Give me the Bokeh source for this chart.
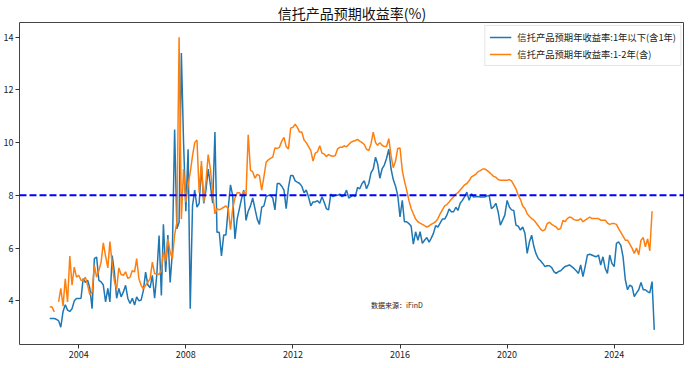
import numpy as np
import pandas as pd
from bokeh.plotting import figure
from bokeh.models import Span, Label, FixedTicker, DatetimeTickFormatter, Range1d, Legend, LegendItem
from bokeh.embed import file_html
from bokeh.resources import INLINE

FONT = "Noto Sans CJK SC"

title_text = "信托产品预期收益率(%)"
label_short = "信托产品预期年收益率:1年以下(含1年)"
label_mid = "信托产品预期年收益率:1-2年(含)"
source_note = "数据来源：iFinD"

start_month = "2002-12-01"
tick_years = [2004, 2008, 2012, 2016, 2020, 2024]
y_ticks = [4, 6, 8, 10, 12, 14]
ref_level = 8

nan = float("nan")

blue_1y = [
    3.33,
    3.33, 3.33, 3.3, 3.25, 3.0, 3.6, 3.85, 3.65, 3.6, 3.7, 4.0, 4.09,
    4.09, 4.1, 4.84, 4.7, 4.78, 4.47, 3.7, 5.6, 5.66, 4.78, 4.72, 4.6,
    3.96, 4.47, 3.96, 5.72, 5.09, 4.1, 4.47, 4.15, 4.34, 4.59, 4.09, 3.9,
    4.1, 3.84, 4.15, 4.0, 4.03, 4.4, 5.09, 4.6, 4.5, 4.97, 4.1, 5.0,
    6.48, 4.2, 6.9, 5.1, 6.5, 4.7, 5.85, 10.5, 6.73, 6.98, 13.4, 10.0,
    7.4, 9.75, 3.7, 7.6, 8.2, 7.55, 7.7, 9.1, 7.7, 8.2, 9.0, 8.4,
    7.7, 10.4, 6.6, 6.6, 5.7, 6.5, 6.5, 7.5, 8.4, 8.0, 6.35, 7.1,
    7.5, 7.9, 8.2, 7.05, 7.4, 7.6, 7.9, 7.5, 7.1, 6.9, 7.55, 7.6,
    7.95, 8.0, 8.0, 7.9, 7.45, 8.45, 8.45, 8.35, 8.2, 7.5, 8.3, 8.75,
    8.75, 8.55, 8.5, 8.45, 8.35, 8.1, 8.2, 7.94, 7.6, 7.75, 7.75, 7.8,
    7.7, 7.95, 7.75, 7.5, 7.45, 8.05, 7.95, 8.0, 8.0, 8.05, 7.95, 8.0,
    8.2, 7.9, 7.95, 8.0, 7.95, 8.3, 8.25, 8.45, 8.55, 8.25, 8.45, 8.85,
    9.0, 9.45, 9.2, 8.65, 9.0, 9.15, 9.4, 9.75, 9.0, 8.6, 8.35, 8.0,
    7.18, 7.81, 7.0, 7.0, 6.93, 6.83, 6.15, 6.62, 6.3, 6.62, 6.18, 6.3,
    6.4, 6.23, 6.37, 6.56, 6.85, 6.8, 6.95, 7.1, 7.1, 7.25, 7.48, 7.38,
    7.38, 7.55, 7.43, 7.7, 7.81, 7.95, 8.12, 7.81, 8.06, 7.94, 7.95, 7.96,
    7.94, 7.94, 7.94, 7.97, 8.0, 7.5, 7.56, 7.7, 7.37, 6.87, 7.06, 7.25,
    7.81, 7.56, 7.45, 7.43, 6.87, 6.83, 6.68, 6.8, 6.55, 5.8, 6.24, 6.49,
    6.05, 5.77, 5.61, 5.52, 5.42, 5.3, 5.33, 5.33, 5.26, 5.11, 5.04, 5.11,
    5.14, 5.23, 5.3, 5.33, 5.36, 5.3, 5.23, 5.14, 5.04, 5.36, 4.92, 5.3,
    5.74, 5.77, 5.74, 5.7, 5.67, 5.74, 5.36, 5.67, 5.23, 5.04, 5.74, 5.42,
    5.3, 6.18, 6.24, 6.1, 5.67, 4.8, 4.42, 4.6, 4.54, 4.16, 4.3, 4.42,
    4.7, 4.42, 4.42, 4.35, 4.3, 4.73, 2.9,
]

orange_1_2y = [
    3.77,
    3.77, 3.58, nan, 3.96, 4.47, 3.8, 4.84, 3.96, 5.7, 4.6, 5.28, 4.9,
    4.97, 4.78, 4.76, 4.9, 4.59, 4.23, 4.34, 5.34, 4.9, 5.15, 5.47, 6.2,
    5.7, 5.25, 6.25, 5.4, 4.75, 4.45, 5.25, 5.0, 4.97, 5.1, 4.85, 4.9,
    5.15, 5.1, 5.6, 4.84, 4.59, 4.45, 4.59, 4.72, 4.84, 5.47, 5.03, 5.03,
    5.0, 5.15, 5.85, 5.5, 6.35, 5.85, 5.6, 6.5, 6.98, 14.0, 7.1, 9.0,
    7.74, 8.4, 8.87, 9.5, 10.0, 10.1, 8.1, 9.3, 7.74, 8.5, 9.55, 9.0,
    8.1, 7.3, 7.5, 7.45, 7.5, 7.55, 7.6, 7.5, 6.7, 7.5, 7.9, 8.1,
    8.1, 8.0, 8.15, 8.0, 10.3, 8.95, 8.9, 8.65, 8.8, 8.75, 8.2, 8.7,
    9.26, 9.35, 9.4, 9.45, 9.8, 9.78, 9.82, 10.05, 10.2, 9.85, 9.76, 10.55,
    10.58, 10.7, 10.58, 10.4, 10.4, 10.1, 10.0, 9.85, 9.7, 9.3, 9.6, 9.65,
    9.88, 9.6, 9.57, 9.47, 9.55, 9.5, 9.48, 9.51, 9.76, 9.82, 9.82, 9.88,
    9.84, 9.93, 10.01, 10.05, 10.08, 10.12, 10.06, 10.0, 9.93, 9.75, 9.7, 9.95,
    10.4, 10.0, 9.9, 10.0, 9.9, 9.85, 9.85, 10.15, 9.5, 9.05, 9.3, 9.78,
    9.8, 8.95, 8.55, 8.2, 7.81, 7.5, 7.3, 7.1, 7.0, 6.95, 6.9, 6.85,
    6.8, 6.84, 6.9, 6.95, 7.0, 7.12, 7.3, 7.45, 7.6, 7.65, 7.75, 7.85,
    7.95, 8.05, 8.1, 8.2, 8.3, 8.4, 8.45, 8.55, 8.7, 8.75, 8.8, 8.9,
    8.94, 9.0, 9.0, 8.95, 8.88, 8.8, 8.72, 8.69, 8.6, 8.57, 8.57, 8.57,
    8.57, 8.6, 8.55, 8.4, 8.25, 8.0, 7.85, 7.6, 7.5, 7.3, 7.2, 7.12,
    7.06, 6.95, 6.85, 6.72, 6.65, 6.7, 6.93, 6.98, 6.9, 6.85, 6.8, 6.7,
    6.75, 7.05, 7.0, 7.12, 7.18, 7.15, 7.08, 7.06, 7.06, 7.12, 7.0, 7.06,
    7.12, 7.18, 7.12, 7.12, 7.12, 7.12, 7.06, 7.06, 7.06, 6.95, 6.9, 6.93,
    6.93, 6.9, 6.74, 6.6, 6.45, 6.3, 6.3, 6.15, 6.0, 5.8, 6.0, 5.75,
    6.3, 6.4, 6.05, 6.35, 5.9, 7.4, nan,
]

dates = pd.date_range(start_month, periods=len(blue_1y), freq="MS")
assert len(orange_1_2y) == len(blue_1y)

t0, t1 = dates[0], dates[-1]
pad_t = (t1 - t0) * 0.05
allv = np.array(blue_1y + orange_1_2y, dtype=float)
lo, hi = np.nanmin(allv), np.nanmax(allv)
pad_v = (hi - lo) * 0.05

p = figure(width=684, height=360, x_axis_type="datetime",
           output_backend="svg", toolbar_location=None,
           x_range=Range1d(t0 - pad_t, t1 + pad_t),
           y_range=Range1d(lo - pad_v, hi + pad_v),
           min_border_left=4, min_border_right=0, min_border_top=0, min_border_bottom=4)

p.title.text = title_text
p.title.align = "center"
p.title.text_font = FONT
p.title.text_font_size = "14px"
p.title.text_font_style = "normal"
p.title.text_color = "#111111"
p.title.text_line_height = 0.9
p.title.standoff = 0
p.title.offset = 0

p.grid.visible = False
p.outline_line_color = "#444444"
p.outline_line_width = 1
p.background_fill_color = "white"
p.border_fill_color = "white"

for ax in (p.xaxis[0], p.yaxis[0]):
    ax.axis_line_color = None
    ax.major_tick_in = 0
    ax.major_tick_out = 4
    ax.minor_tick_line_color = None
    ax.major_tick_line_color = "#333333"
    ax.major_label_text_font = FONT
    ax.major_label_text_font_size = "9px"
    ax.major_label_text_color = "#222222"
    ax.major_label_standoff = 2

p.xaxis.ticker = FixedTicker(ticks=[pd.Timestamp(f"{y}-01-01").value / 1e6 for y in tick_years])
p.xaxis.formatter = DatetimeTickFormatter(years="%Y", months="%Y", days="%Y")
p.yaxis.ticker = FixedTicker(ticks=y_ticks)

r1 = p.line(dates, blue_1y, line_color="#1f77b4", line_width=1.5)
r2 = p.line(dates, orange_1_2y, line_color="#ff7f0e", line_width=1.5)

p.add_layout(Span(location=ref_level, dimension="width", line_color="blue",
                  line_width=2, line_dash="7 3"))

p.add_layout(Label(x=pd.Timestamp("2014-12-01"), y=3.85, text=source_note,
                   text_font=FONT, text_font_size="7px", text_color="#222222",
                   text_baseline="middle", text_align="left"))

legend = Legend(items=[LegendItem(label=label_short, renderers=[r1]),
                       LegendItem(label=label_mid, renderers=[r2])],
                location="top_right")
legend.label_text_font = FONT
legend.label_text_font_size = "9.3px"
legend.label_text_color = "#222222"
legend.glyph_width = 22
legend.glyph_height = 12
legend.label_height = 12
legend.label_standoff = 6
legend.spacing = 3
legend.padding = 4
legend.margin = 3
legend.border_line_color = "#cccccc"
legend.border_line_width = 1
legend.background_fill_alpha = 0.9
p.add_layout(legend)

open("out.html", "w").write(file_html(p, INLINE))
